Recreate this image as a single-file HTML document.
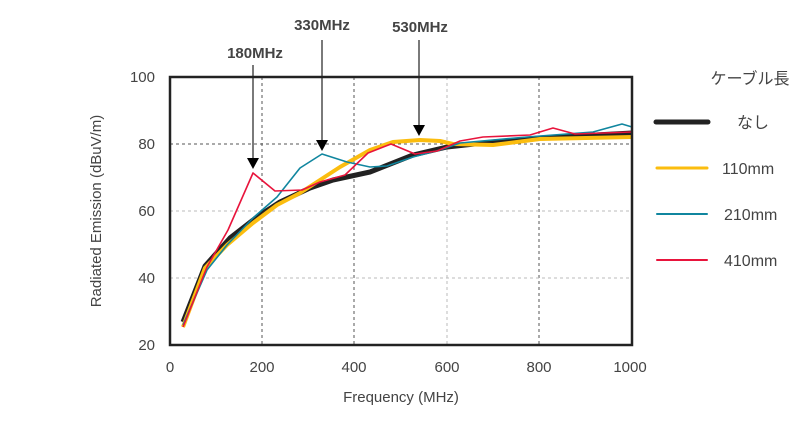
<!DOCTYPE html>
<html><head><meta charset="utf-8"><style>
body{margin:0;background:#fff}
svg text{font-family:"Liberation Sans","Noto Sans CJK JP",sans-serif;fill:#444}
</style></head><body>
<svg width="801" height="421" xmlns="http://www.w3.org/2000/svg">
<g stroke="#555" stroke-dasharray="3,3" stroke-width="1">
<line x1="262" y1="77" x2="262" y2="345"/><line x1="354" y1="77" x2="354" y2="345"/>
<line x1="447" y1="77" x2="447" y2="345" stroke="#bbb"/><line x1="539" y1="77" x2="539" y2="345"/>
<line x1="170" y1="144" x2="632" y2="144"/>
<line x1="170" y1="211" x2="632" y2="211" stroke="#bbb"/>
<line x1="170" y1="278" x2="632" y2="278" stroke="#bbb"/>
</g>
<g fill="none" stroke-linejoin="round">
<polyline stroke="#222" stroke-width="5" points="183,322 205,266 230,238 257,217 280,202 310,188 333,180 370,172 413,155 447,147 493,142 540,138 632,133"/>
<polyline stroke="#fbbd0f" stroke-width="4" points="183,327 205,268 227,245 253,223 277,205 300,193 340,167 370,150 393,142 420,140 440,141 453,144 493,145 540,139 632,137"/>
<polyline stroke="#10869f" stroke-width="1.6" points="183,325 207,270 227,245 253,218 277,197 300,168 322,154 347,162 370,167 387,166 413,157 440,150 460,143 527,137 593,132 622,124 632,127"/>
<polyline stroke="#e8143c" stroke-width="1.6" points="183,327 207,267 228,230 253,173 275,191 302,190 320,182 345,175 368,153 391,144 415,154 437,151 460,141 483,137 530,135 553,128 575,134 632,132"/>
</g>
<rect x="170" y="77" width="462" height="268" fill="none" stroke="#222" stroke-width="2.5"/>
<g stroke="#222" stroke-width="1.2"><line x1="253" y1="65" x2="253" y2="160"/><line x1="322" y1="40" x2="322" y2="142"/><line x1="419" y1="40" x2="419" y2="127"/></g>
<g fill="#000"><polygon points="247,158 259,158 253,169"/><polygon points="316,140 328,140 322,151"/><polygon points="413,125 425,125 419,136"/></g>
<g font-size="15" font-weight="bold" text-anchor="middle"><text x="255" y="58">180MHz</text><text x="322" y="30">330MHz</text><text x="420" y="32">530MHz</text></g>
<g font-size="15" text-anchor="end"><text x="155" y="82">100</text><text x="155" y="149">80</text><text x="155" y="216">60</text><text x="155" y="283">40</text><text x="155" y="350">20</text></g>
<g font-size="15" text-anchor="middle"><text x="170" y="372">0</text><text x="262" y="372">200</text><text x="354" y="372">400</text><text x="447" y="372">600</text><text x="539" y="372">800</text><text x="630" y="372">1000</text>
<text x="401" y="402">Frequency (MHz)</text>
<text transform="translate(101,211) rotate(-90)">Radiated Emission (dBuV/m)</text></g>
<text x="750" y="84" font-size="16" text-anchor="middle">ケーブル長</text>
<g stroke-linecap="round"><line x1="656" y1="122" x2="708" y2="122" stroke="#222" stroke-width="5"/><line x1="657" y1="168" x2="707" y2="168" stroke="#fbbd0f" stroke-width="3"/><line x1="657" y1="214" x2="707" y2="214" stroke="#10869f" stroke-width="2"/><line x1="657" y1="260" x2="707" y2="260" stroke="#e8143c" stroke-width="2"/></g>
<g font-size="16"><text x="737" y="128">なし</text><text x="722" y="174">110mm</text><text x="724" y="220">210mm</text><text x="724" y="266">410mm</text></g>
</svg>
</body></html>
